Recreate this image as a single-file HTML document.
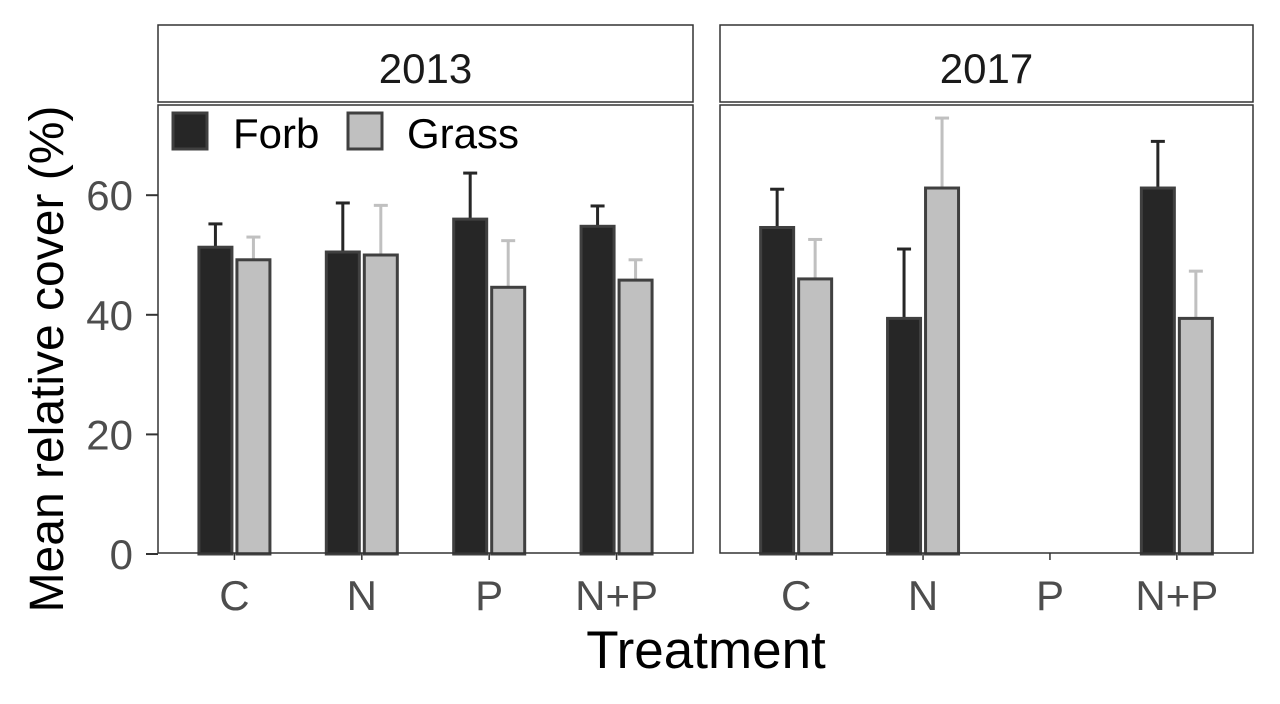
<!DOCTYPE html>
<html><head><meta charset="utf-8"><style>
html,body{margin:0;padding:0;background:#fff;}
svg{display:block;font-family:"Liberation Sans",Arial,sans-serif;}
</style></head><body>
<svg id="chart" width="1280" height="704" viewBox="0 0 1280 704" xmlns="http://www.w3.org/2000/svg">
<rect width="1280" height="704" fill="#fff"/>
</svg>
<script>
const categories = ["C","N","P","N+P"];
const years = ["2013","2017"];
const forb2013 = [51.3,50.5,56,54.8];
const forbErr2013 = [55.2,58.7,63.7,58.2];
const grass2013 = [49.2,50,44.6,45.8];
const grassErr2013 = [53,58.3,52.4,49.2];
const forb2017 = [54.6,39.4,null,61.2];
const forbErr2017 = [61,51,null,69];
const grass2017 = [46,61.2,null,39.4];
const grassErr2017 = [52.6,72.9,null,47.3];
const yTicks = [0,20,40,60];

const svg = document.getElementById('chart');
const NS = "http://www.w3.org/2000/svg";
function mk(tag, attrs, parent){const e=document.createElementNS(NS,tag);for(const k in attrs)e.setAttribute(k,attrs[k]);(parent||svg).appendChild(e);return e;}
const panels = [{x0:158,x1:693},{x0:720,x1:1253}];
const yTop=105, yBot=553;
function yScale(v){return 554 - v*5.98;}
function xScale(p,i){const pw=panels[p].x1-panels[p].x0;return panels[p].x0 + pw*(i+0.6)/(categories.length+0.2);}
const data=[[forb2013,forbErr2013,grass2013,grassErr2013],[forb2017,forbErr2017,grass2017,grassErr2017]];
const bw=33, off=19;

panels.forEach((pn,p)=>{
  const strip=mk('rect',{x:pn.x0,y:25,width:pn.x1-pn.x0,height:77,fill:'#fff',stroke:'#333','stroke-width':1.5});
  
  
  const st=mk('text',{x:(pn.x0+pn.x1)/2,y:83,'text-anchor':'middle','font-size':42,fill:'#1a1a1a'});
  st.textContent=years[p];
  
  
  const [f,fe,g,ge]=data[p];
  categories.forEach((c,i)=>{
    const cx=xScale(p,i);
    [[f,fe,'#262626',-off,'forb'],[g,ge,'#c0c0c0',off,'grass']].forEach(([v,e,col,o,nm])=>{
      if(v[i]==null)return;
      const bx=cx+o;
      const ln=mk('line',{x1:bx,x2:bx,y1:yScale(v[i]),y2:yScale(e[i]),stroke:col,'stroke-width':3});
      
      
      const cap=mk('line',{x1:bx-7,x2:bx+7,y1:yScale(e[i]),y2:yScale(e[i]),stroke:col,'stroke-width':3});
      
      
      const r=mk('rect',{x:bx-bw/2,y:yScale(v[i]),width:bw,height:yScale(0)-yScale(v[i]),fill:col,stroke:'#404040','stroke-width':3});
      
      
    });
    const tk=mk('line',{x1:cx,x2:cx,y1:yBot,y2:yBot+7,stroke:'#333','stroke-width':1.5});
    
    
    const tl=mk('text',{x:cx,y:610,'text-anchor':'middle','font-size':42,fill:'#4d4d4d'});
    tl.textContent=c;
    
    
  });
  const fr=mk('rect',{x:pn.x0,y:yTop,width:pn.x1-pn.x0,height:yBot-yTop,fill:'none',stroke:'#333','stroke-width':1.5});
  
  
});

yTicks.forEach(t=>{
  const y=yScale(t);
  const tk=mk('line',{x1:146,x2:158,y1:y,y2:y,stroke:'#333','stroke-width':2});
  
  
  const tl=mk('text',{x:133,y:y+15,'text-anchor':'end','font-size':42,fill:'#4d4d4d'});
  tl.textContent=t;
  
  
});
</script>
<svg style="position:absolute;left:0;top:0" width="1280" height="704">
<g>
<rect x="173" y="113" width="34" height="36" fill="#262626" stroke="#404040" stroke-width="3"/>
<text x="233" y="148" font-size="42" fill="#000" font-family="Liberation Sans, sans-serif">Forb</text>
<rect x="348" y="113" width="34" height="36" fill="#c0c0c0" stroke="#404040" stroke-width="3"/>
<text x="407" y="148" font-size="42" fill="#000" font-family="Liberation Sans, sans-serif">Grass</text>
</g>
<text x="706" y="668" text-anchor="middle" font-size="53" fill="#000" font-family="Liberation Sans, sans-serif">Treatment</text>
<text transform="translate(63,359) rotate(-90)" text-anchor="middle" font-size="48" fill="#000" font-family="Liberation Sans, sans-serif">Mean relative cover (%)</text>
</svg>
</body></html>
